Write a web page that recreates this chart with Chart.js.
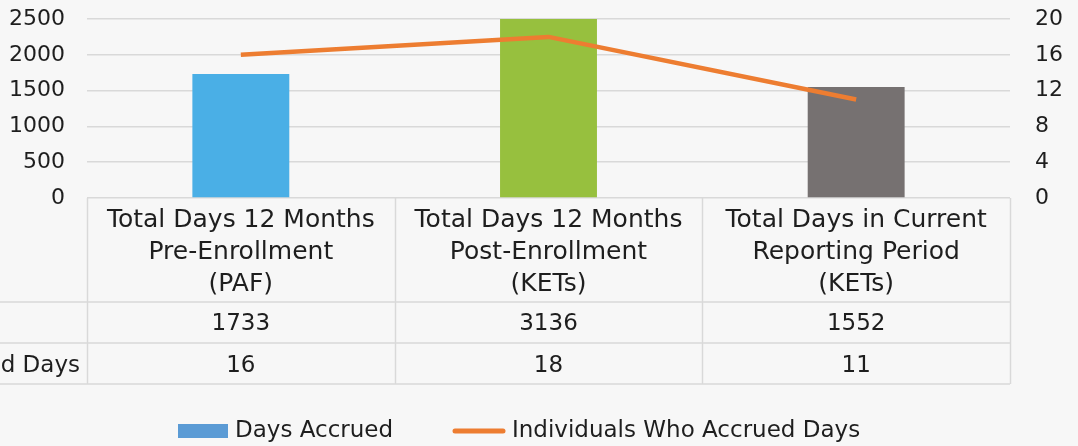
<!DOCTYPE html>
<html>
<head>
<meta charset="utf-8">
<script src="https://cdn.jsdelivr.net/npm/chart.js@4/dist/chart.umd.min.js"></script>
<style>
  html, body { margin: 0; padding: 0; background: #f7f7f7; }
  #wrap { width: 1078px; height: 446px; }
</style>
</head>
<body>
<div id="wrap"><canvas id="c" width="1078" height="446"></canvas></div>
<script>
const categories = [
  ['Total Days 12 Months', 'Pre-Enrollment', '(PAF)'],
  ['Total Days 12 Months', 'Post-Enrollment', '(KETs)'],
  ['Total Days in Current', 'Reporting Period', '(KETs)'],
];
const daysAccrued = [1733, 3136, 1552];
const individuals = [16, 18, 11];
const seriesNames = ['Days Accrued', 'Individuals Who Accrued Days'];
const barColors = ['#4aafe6', '#97c03e', '#767171'];
const leftMax = 2500, leftStep = 500;
const rightMax = 20, rightStep = 4;

const FONT = 'DejaVu Sans';
const TEXT = '#1e1e1e';
const GRID = '#d9d9d9';

// Tableau de données sous l'axe X + légende
const tablePlugin = {
  id: 'dataTable',
  afterDraw(chart) {
    const { ctx, chartArea } = chart;
    const x = chart.scales.x;
    const top = chartArea.bottom;
    const r1 = top + 104, r2 = r1 + 41, r3 = r2 + 41;
    const left = chartArea.left, right = chartArea.right;
    const step = (right - left) / categories.length;
    ctx.save();
    ctx.strokeStyle = GRID;
    ctx.lineWidth = 1.5;
    ctx.beginPath();
    for (let i = 0; i <= categories.length; i++) {
      const vx = Math.round(left + step * i) + 0.5;
      ctx.moveTo(vx, top); ctx.lineTo(vx, r3);
    }
    for (const hy of [r1, r2, r3]) { ctx.moveTo(0, hy); ctx.lineTo(right, hy); }
    ctx.stroke();

    ctx.fillStyle = TEXT;
    ctx.font = `23px "${FONT}"`;
    ctx.textAlign = 'center';
    ctx.textBaseline = 'middle';
    const rows = [daysAccrued, individuals];
    rows.forEach((vals, ri) => {
      const cy = ri === 0 ? (r1 + r2) / 2 + 2 : (r2 + r3) / 2 + 3;
      vals.forEach((v, i) => ctx.fillText(String(v), x.getPixelForValue(i), cy));
    });
    // libellés des lignes (alignés à gauche, débordent hors du cadre)
    ctx.textAlign = 'left';
    const lx = 80 - ctx.measureText(seriesNames[1]).width;
    ctx.fillText(seriesNames[0], lx, (r1 + r2) / 2 + 2);
    ctx.fillText(seriesNames[1], lx, (r2 + r3) / 2 + 3);

    // légende
    const ly = 431;
    ctx.font = `23px "${FONT}"`;
    ctx.fillStyle = '#5b9bd5';
    ctx.fillRect(178, ly - 7, 50, 14);
    ctx.fillStyle = TEXT;
    ctx.fillText(seriesNames[0], 235, ly);
    ctx.strokeStyle = '#ed7d31';
    ctx.lineWidth = 5;
    ctx.lineCap = 'round';
    ctx.beginPath(); ctx.moveTo(455, ly); ctx.lineTo(503, ly); ctx.stroke();
    ctx.fillText(seriesNames[1], 512, ly);
    ctx.restore();
  },
};

// largeur fixe des axes Y, sans la marge verticale ajoutée par le padding des ticks
const fixY = (w) => (s) => { s.width = w; s.paddingTop = 0; s.paddingBottom = 0; };

new Chart(document.getElementById('c'), {
  data: {
    labels: categories,
    datasets: [
      {
        type: 'line', label: seriesNames[1], data: individuals, yAxisID: 'y1', order: 0,
        borderColor: '#ed7d31', borderWidth: 4.5, pointRadius: 0, tension: 0, borderJoinStyle: 'round',
      },
      {
        type: 'bar', label: seriesNames[0], data: daysAccrued, yAxisID: 'y', order: 1,
        backgroundColor: barColors, categoryPercentage: 1, barPercentage: 0.315,
      },
    ],
  },
  options: {
    responsive: false,
    animation: false,
    layout: { padding: { top: 19, bottom: 62, left: 0, right: 0 } },
    plugins: { legend: { display: false }, tooltip: { enabled: false } },
    scales: {
      x: {
        grid: { display: false }, border: { display: false },
        ticks: { color: TEXT, font: { family: FONT, size: 25, lineHeight: 1.28 }, padding: -2, maxRotation: 0, autoSkip: false },
        afterFit: (s) => { s.height = 186; },
      },
      y: {
        position: 'left', min: 0, max: leftMax,
        grid: { color: GRID, lineWidth: 1.5, drawTicks: false }, border: { display: false },
        ticks: { stepSize: leftStep, color: TEXT, font: { family: FONT, size: 22 }, padding: 22, callback: (v) => String(v) },
        afterFit: fixY(87),
      },
      y1: {
        position: 'right', min: 0, max: rightMax,
        grid: { display: false }, border: { display: false },
        ticks: { stepSize: rightStep, color: TEXT, font: { family: FONT, size: 22 }, padding: 17, callback: (v) => String(v) },
        afterFit: fixY(68),
      },
    },
  },
  plugins: [tablePlugin],
});
</script>
</body>
</html>
